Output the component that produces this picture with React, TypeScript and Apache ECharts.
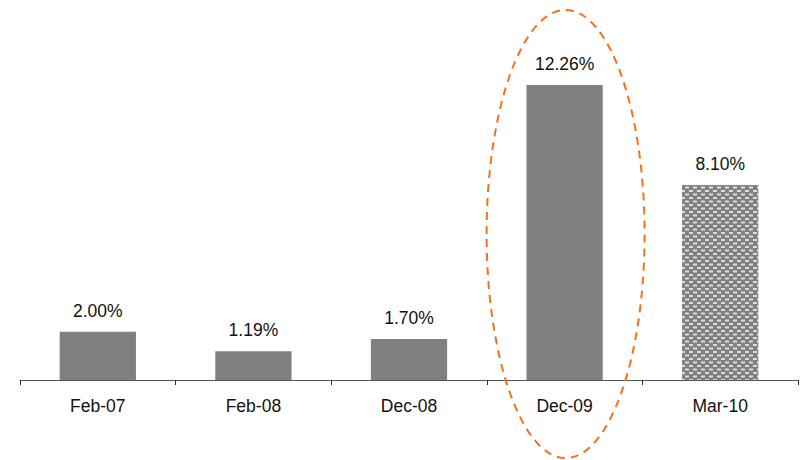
import React, { useEffect, useRef } from "react";
import * as echarts from "echarts";

// Periods shown on the category axis
const categories: string[] = ["Feb-07", "Feb-08", "Dec-08", "Dec-09", "Mar-10"];
// Rate for each period, in percent
const values: number[] = [2.0, 1.19, 1.7, 12.26, 8.1];
// Index of the period drawn with a hatched fill (latest estimate)
const hatchedIndex = 4;
// Index of the period that gets the dashed highlight ring
const highlightIndex = 3;

const FONT = "Liberation Sans, Arial, Helvetica, sans-serif";

function makeHatchTile(): HTMLCanvasElement {
  const c = document.createElement("canvas");
  c.width = 8;
  c.height = 7;
  const ctx = c.getContext("2d")!;
  ctx.fillStyle = "#808080";
  ctx.fillRect(0, 0, 8, 7);
  ctx.fillStyle = "#dcdcdc";
  ctx.fillRect(1, 1, 4, 2);
  ctx.fillRect(5, 4.5, 4, 2);
  ctx.fillRect(-3, 4.5, 4, 2);
  return c;
}

export default function App() {
  const ref = useRef<HTMLDivElement>(null);

  useEffect(() => {
    if (!ref.current) return;
    const chart = echarts.init(ref.current, null, { renderer: "svg" });
    const tile = makeHatchTile();

    const data = values.map((v, i) =>
      i === hatchedIndex
        ? {
            value: v,
            itemStyle: {
              color: { image: tile, repeat: "repeat" } as any,
            },
          }
        : { value: v }
    );

    chart.setOption({
      animation: false,
      grid: { left: 20, right: 6, top: 43, bottom: 80 },
      xAxis: {
        type: "category",
        data: categories,
        boundaryGap: true,
        axisLine: { lineStyle: { color: "#555555", width: 1 } },
        axisTick: {
          show: true,
          alignWithLabel: false,
          length: 5,
          lineStyle: { color: "#333333" },
        },
        axisLabel: {
          color: "#111111",
          fontFamily: FONT,
          fontSize: 17.5,
          margin: 17,
        },
      },
      yAxis: {
        type: "value",
        min: 0,
        max: 14,
        show: false,
        splitLine: { show: false },
      },
      series: [
        {
          type: "bar",
          data,
          barWidth: "49%",
          itemStyle: { color: "#808080" },
          label: {
            show: true,
            position: "top",
            distance: 12,
            color: "#111111",
            fontFamily: FONT,
            fontSize: 17.5,
            formatter: (p: any) => `${Number(p.value).toFixed(2)}%`,
          },
        },
      ],
    });

    const px = chart.convertToPixel({ xAxisIndex: 0 }, highlightIndex) as unknown;
    const cx = Array.isArray(px) ? (px[0] as number) : (px as number);

    chart.setOption({
      graphic: [
        {
          type: "ellipse",
          shape: { cx: cx + 1, cy: 234, rx: 79, ry: 224 },
          style: {
            fill: "none",
            stroke: "#f7701e",
            lineWidth: 2,
            lineDash: [8, 6],
          },
          silent: true,
          z: 10,
        },
      ],
    });

    return () => chart.dispose();
  }, []);

  return <div ref={ref} style={{ width: 804, height: 460, position: "absolute", left: 0, top: 0 }} />;
}
